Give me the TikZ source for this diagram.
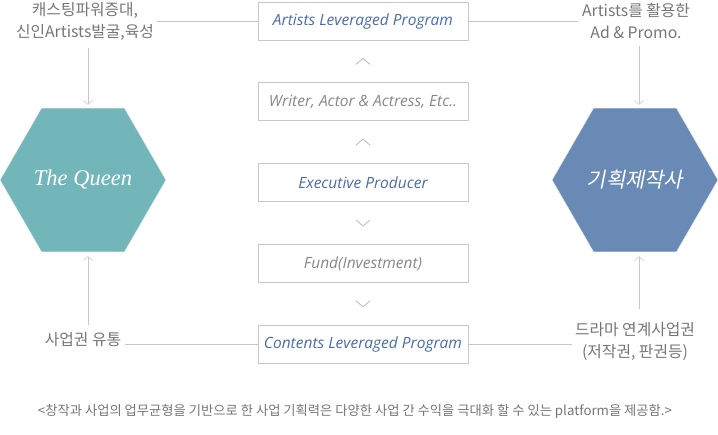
\documentclass[tikz,border=0pt]{standalone}
\usepackage{fontspec}
\setmainfont{Noto Sans CJK KR}
\newfontfamily\boxfont{Open Sans}
\newfontfamily\queenfont{Liberation Serif}
\newfontfamily\slanthan{Noto Sans CJK KR}[FakeSlant=0.2]
\usetikzlibrary{arrows.meta,positioning,shapes.geometric,calc}
\definecolor{teal}{RGB}{114,182,185}
\definecolor{steel}{RGB}{104,138,180}
\definecolor{textblue}{RGB}{74,108,168}
\definecolor{textgray}{RGB}{135,135,135}
\definecolor{notegray}{RGB}{118,118,118}
\definecolor{linegray}{RGB}{200,200,200}
\definecolor{chevgray}{RGB}{185,185,185}

\tikzset{
  stepbox/.style={draw=linegray, line width=0.8pt, minimum width=210pt, minimum height=38pt, inner sep=0pt, font=\boxfont\itshape\fontsize{15.5}{17}\selectfont},
  hexa/.style={regular polygon, regular polygon sides=6, minimum size=166pt, inner sep=0pt, draw=white!85!gray, line width=0.6pt, text=white},
  note/.style={text=notegray, align=center, font=\fontsize{15.8}{22}\selectfont},
  link/.style={draw=linegray, line width=0.6pt},
  arr/.style={link, -{Straight Barb[length=4pt,width=9pt]}},
  chev/.style={draw=chevgray, line width=0.8pt}
}

\begin{document}
\begin{tikzpicture}[x=1pt, y=-1pt, node distance=42pt]
\useasboundingbox (0,0) rectangle (718,435);

% centre column
\node[stepbox, text=textblue] (alp) at (363,21) {Artists Leveraged Program};
\node[stepbox, text=textgray, below=of alp] (cast) {Writer, Actor \& Actress, Etc..};
\node[stepbox, text=textblue, below=of cast] (exec) {Executive Producer};
\node[stepbox, text=textgray, below=of exec] (fund) {Fund(Investment)};
\node[stepbox, text=textblue, below=of fund] (clp) {Contents Leveraged Program};

% chevrons between the boxes
\coordinate (c1) at ($(alp.south)!0.5!(cast.north)$);
\coordinate (c2) at ($(cast.south)!0.5!(exec.north)$);
\coordinate (c3) at ($(exec.south)!0.5!(fund.north)$);
\coordinate (c4) at ($(fund.south)!0.5!(clp.north)$);
\draw[chev] ([shift={(-7,3)}]c1) -- ([shift={(0,-3)}]c1) -- ([shift={(7,3)}]c1);
\draw[chev] ([shift={(-7,3)}]c2) -- ([shift={(0,-3)}]c2) -- ([shift={(7,3)}]c2);
\draw[chev] ([shift={(-7,-3)}]c3) -- ([shift={(0,3)}]c3) -- ([shift={(7,-3)}]c3);
\draw[chev] ([shift={(-7,-3)}]c4) -- ([shift={(0,3)}]c4) -- ([shift={(7,-3)}]c4);

% hexagons
\node[hexa, fill=teal, font=\queenfont\itshape\fontsize{22.5}{24}\selectfont] (queen) at (83,180) {The Queen};
\node[hexa, fill=steel, font=\slanthan\fontsize{21}{24}\selectfont] (agency) at (635,180) {기획제작사};

% side notes
\node[note] (castnote) at (85,21) {캐스팅파워증대,\\신인Artists발굴,육성};
\node[note] (adnote) at (636,21) {Artists를 활용한\\Ad \& Promo.};
\node[note] (distnote) at (83,340) {사업권 유통};
\node[note] (dramanote) at (635,342) {드라마 연계사업권\\(저작권, 판권등)};

\draw[link] (alp.west) -- (alp.west -| castnote.east);
\draw[link] (alp.east) -- (alp.east -| adnote.west);
\draw[link] (clp.west) -- (clp.west -| distnote.east);
\draw[link] (clp.east) -- (clp.east -| dramanote.west);

\draw[arr, shorten <=4pt, shorten >=3pt] ([xshift=3pt]castnote.south) -- ([xshift=3pt]castnote.south |- queen.north);
\draw[arr, shorten <=4pt, shorten >=3pt] ([xshift=3pt]adnote.south) -- ([xshift=3pt]adnote.south |- agency.north);
\draw[arr, shorten >=4pt] ([xshift=5pt]distnote.north |- clp.north) -- ([xshift=5pt]distnote.north |- queen.south);
\draw[arr, shorten >=4pt] ([xshift=4pt,yshift=10pt]dramanote.north) -- ([xshift=4pt]dramanote.north |- agency.south);

% footer
\node[text=notegray, font=\fontsize{13.3}{15}\selectfont] (footer) at (355,411) {<창작과 사업의 업무균형을 기반으로 한 사업 기획력은 다양한 사업 간 수익을 극대화 할 수 있는 platform을 제공함.>};
\end{tikzpicture}
\end{document}
